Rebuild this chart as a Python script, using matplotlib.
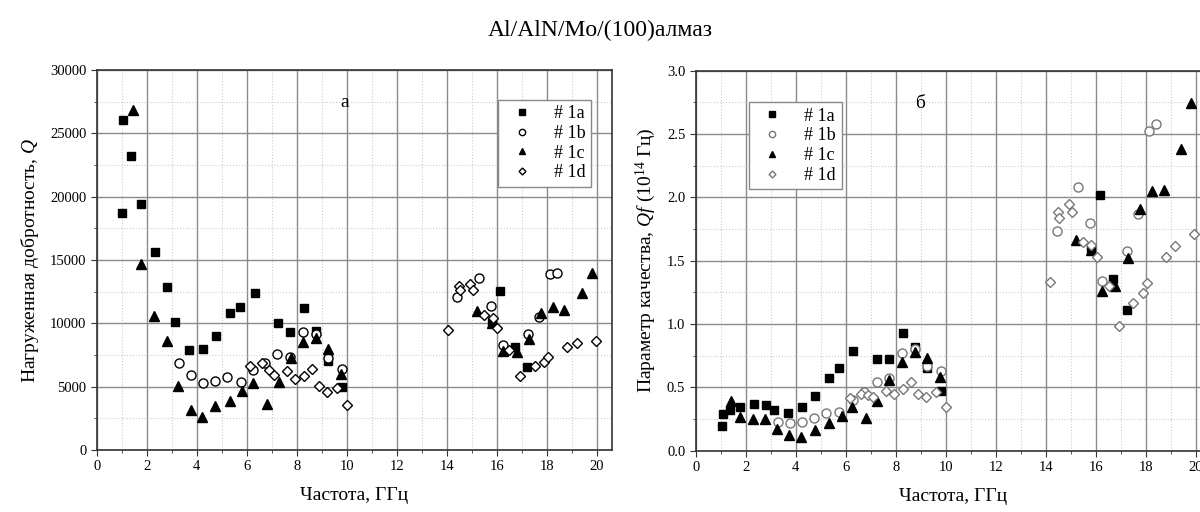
import matplotlib
matplotlib.use('Agg')
import matplotlib.pyplot as plt
from matplotlib.ticker import MultipleLocator

plt.rcParams['font.family'] = ['Liberation Serif', 'DejaVu Serif']
plt.rcParams['mathtext.fontset'] = 'custom'
plt.rcParams['mathtext.rm'] = 'Liberation Serif'
plt.rcParams['mathtext.it'] = 'Liberation Serif:italic'

# ---- data: loaded Q (left panel) ----
f_1a = [1.01, 1.06, 1.36, 1.77, 2.33, 2.80, 3.14, 3.69, 4.24, 4.77, 5.33, 5.73, 6.33,
        7.24, 7.73, 8.29, 8.77, 9.25, 9.80, 15.80, 16.15, 16.73, 17.22]
q_1a = [18690, 26050, 23210, 19400, 15650, 12890, 10130, 7890, 8000, 9020, 10790, 11310, 12370,
        10050, 9340, 11190, 9390, 7050, 4950, 10100, 12550, 8110, 6530]

f_1b = [3.29, 3.77, 4.26, 4.74, 5.21, 5.76, 6.26, 6.73, 7.22, 7.73, 8.24, 8.77, 9.25, 9.80,
        14.42, 15.29, 15.76, 16.27, 17.24, 17.70, 18.13, 18.42]
q_1b = [6890, 5920, 5270, 5470, 5790, 5370, 6320, 6840, 7560, 7370, 9340, 9140, 7240, 6390,
        12050, 13600, 11370, 8290, 9160, 10520, 13890, 14000]

f_1c = [1.44, 1.76, 2.29, 2.80, 3.24, 3.76, 4.21, 4.74, 5.33, 5.81, 6.25, 6.80, 7.28, 7.76,
        8.26, 8.76, 9.26, 9.78, 15.22, 15.81, 16.27, 16.80, 17.28, 17.77, 18.24, 18.71,
        19.41, 19.81]
q_1c = [26840, 14680, 10580, 8630, 5050, 3160, 2580, 3470, 3890, 4680, 5310, 3630, 5340, 7240,
        8500, 8870, 7970, 5980, 11000, 10000, 7820, 7760, 8760, 10840, 11310, 11050,
        12370, 13950]

f_1d = [6.13, 6.60, 6.89, 7.09, 7.62, 7.93, 8.30, 8.61, 8.90, 9.22, 9.62, 10.00,
        14.07, 14.50, 14.53, 14.93, 15.07, 15.50, 15.84, 16.03, 16.50, 16.93, 17.53, 17.90,
        18.07, 18.80, 19.20, 19.96]
q_1d = [6630, 6840, 6320, 5920, 6260, 5610, 5840, 6390, 5050, 4600, 4870, 3550,
        9470, 12970, 12630, 13080, 12630, 10660, 10400, 9610, 7900, 5840, 6660, 6920,
        7320, 8110, 8470, 8610]

# ---- data: Qf, 10^14 Hz (right panel) ----
qf_f_1a = [1.04, 1.08, 1.37, 1.77, 2.35, 2.80, 3.15, 3.71, 4.25, 4.79, 5.35, 5.73, 6.31,
           7.24, 7.73, 8.28, 8.77, 9.26, 9.80, 15.81, 16.17, 16.70, 17.24]
qf_1a = [0.196, 0.286, 0.320, 0.346, 0.367, 0.359, 0.317, 0.293, 0.341, 0.430, 0.575, 0.649,
         0.785, 0.725, 0.720, 0.925, 0.819, 0.649, 0.472, 1.60, 2.017, 1.351, 1.109]

qf_f_1b = [3.28, 3.77, 4.25, 4.75, 5.21, 5.73, 6.28, 6.73, 7.24, 7.74, 8.24, 8.77, 9.26, 9.80,
           14.44, 15.28, 15.77, 16.24, 17.27, 17.68, 18.13, 18.41]
qf_1b = [0.227, 0.219, 0.223, 0.259, 0.298, 0.304, 0.399, 0.464, 0.543, 0.570, 0.767, 0.800,
         0.670, 0.627, 1.735, 2.077, 1.793, 1.340, 1.575, 1.867, 2.524, 2.577]

qf_f_1c = [1.41, 1.77, 2.28, 2.77, 3.27, 3.72, 4.21, 4.77, 5.35, 5.84, 6.27, 6.80, 7.27, 7.74,
           8.24, 8.77, 9.26, 9.77, 15.21, 15.81, 16.24, 16.78, 17.28, 17.77, 18.25, 18.74,
           19.41, 19.82]
qf_1c = [0.393, 0.267, 0.246, 0.246, 0.167, 0.122, 0.109, 0.162, 0.215, 0.275, 0.341, 0.254,
         0.393, 0.560, 0.701, 0.775, 0.728, 0.578, 1.661, 1.582, 1.261, 1.298, 1.517, 1.910,
         2.050, 2.056, 2.380, 2.745]

qf_f_1d = [6.17, 6.60, 6.89, 7.08, 7.61, 7.94, 8.30, 8.60, 8.91, 9.21, 9.61, 10.01,
           14.17, 14.50, 14.53, 14.94, 15.06, 15.50, 15.81, 16.04, 16.54, 16.93, 17.50, 17.90,
           18.04, 18.80, 19.18, 19.93]
qf_1d = [0.412, 0.446, 0.435, 0.425, 0.472, 0.443, 0.483, 0.543, 0.446, 0.420, 0.464, 0.346,
         1.327, 1.882, 1.833, 1.945, 1.885, 1.648, 1.622, 1.530, 1.300, 0.985, 1.167, 1.241,
         1.320, 1.530, 1.617, 1.709]

labels = ['# 1a', '# 1b', '# 1c', '# 1d']

fig = plt.figure(figsize=(12, 5.12), dpi=100)
fig.text(0.5, 1 - 30 / 512, 'Al/AlN/Mo/(100)алмаз', ha='center', va='center', fontsize=17)

ax1 = fig.add_axes([96.7 / 1200, 62 / 512, 515 / 1200, 380 / 512])
ax2 = fig.add_axes([695.7 / 1200, 61.5 / 512, 515 / 1200, 380 / 512])


def style_axes(ax, ymax, ymaj, ymin):
    ax.set_xlim(0, 20.6)
    ax.set_ylim(0, ymax)
    ax.xaxis.set_major_locator(MultipleLocator(2))
    ax.xaxis.set_minor_locator(MultipleLocator(1))
    ax.yaxis.set_major_locator(MultipleLocator(ymaj))
    ax.yaxis.set_minor_locator(MultipleLocator(ymin))
    ax.grid(which='major', color='#8a8a8a', lw=1.0)
    ax.grid(which='minor', color='#cccccc', lw=0.8, ls=':')
    ax.set_axisbelow(True)
    ax.tick_params(which='both', direction='out', labelsize=10.5, color='#333333')
    ax.tick_params(which='major', length=4)
    ax.tick_params(which='minor', length=2.5)
    for s in ax.spines.values():
        s.set_color('#333333')
        s.set_linewidth(1.2)
    ax.set_xlabel('Частота, ГГц', fontsize=14, labelpad=10)


style_axes(ax1, 30000, 5000, 2500)
style_axes(ax2, 3.0, 0.5, 0.25)
ax2.yaxis.set_major_formatter(matplotlib.ticker.FormatStrFormatter('%.1f'))

ms = 5.5
ax1.plot(f_1a, q_1a, 's', color='black', ms=ms + 0.3, ls='none', label=labels[0])
ax1.plot(f_1b, q_1b, 'o', mfc='white', mec='black', mew=1.0, ms=ms + 1, ls='none', label=labels[1])
ax1.plot(f_1c, q_1c, '^', color='black', ms=ms + 1.5, ls='none', label=labels[2])
ax1.plot(f_1d, q_1d, 'D', mfc='white', mec='black', mew=1.0, ms=ms - 0.5, ls='none', label=labels[3])

ax2.plot(qf_f_1a, qf_1a, 's', color='black', ms=ms + 0.3, ls='none', label=labels[0])
ax2.plot(qf_f_1b, qf_1b, 'o', mfc='white', mec='#777777', mew=1.0, ms=ms + 1, ls='none', label=labels[1])
ax2.plot(qf_f_1c, qf_1c, '^', color='black', ms=ms + 1.5, ls='none', label=labels[2])
ax2.plot(qf_f_1d, qf_1d, 'D', mfc='white', mec='#777777', mew=1.0, ms=ms - 0.5, ls='none', label=labels[3])

ax1.set_ylabel('Нагруженная добротность, $Q$', fontsize=14, labelpad=6)
ax2.set_ylabel('Параметр качества, $Qf$ (10$^{14}$ Гц)', fontsize=14, labelpad=6)

ax1.text(9.93, 27400, 'а', fontsize=14, ha='center', va='center')
ax2.text(8.97, 2.74, 'б', fontsize=14, ha='center', va='center')

for ax, anchor in ((ax1, (0.762, 0.945)), (ax2, (0.085, 0.94))):
    leg = ax.legend(loc='upper left', bbox_to_anchor=anchor, fontsize=13, markerscale=0.7,
                    fancybox=False, framealpha=1, edgecolor='#888888', borderpad=0.3,
                    labelspacing=0.15, handletextpad=0.8, handlelength=2.0)
    leg.get_frame().set_linewidth(1.0)

fig.savefig('out.png', dpi=100)
